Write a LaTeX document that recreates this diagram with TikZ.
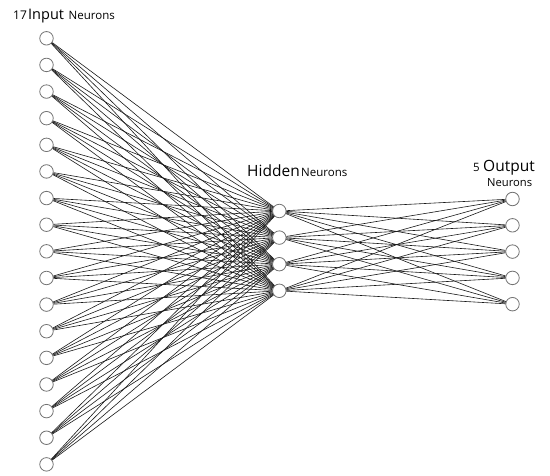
\documentclass[tikz,border=0pt]{standalone}
\usepackage{fontspec}
\setmainfont{Open Sans}
\begin{document}
\begin{tikzpicture}[x=1pt,y=-1pt,
  neuron/.style={circle,draw=black!55,line width=0.8pt,fill=white,minimum size=13.5pt,inner sep=0pt},
  conn/.style={draw=black!90,line width=0.6pt},
  lbl/.style={anchor=base west,inner sep=0pt,text=black}]
\useasboundingbox (0,0) rectangle (550,476);
% neurons
\foreach \i in {1,...,17}
  \node[neuron] (in\i) at (46.5,{38.3+(\i-1)*26.63}) {};
\foreach \j in {1,...,4}
  \node[neuron] (hd\j) at (279.3,{211+(\j-1)*26.6}) {};
\foreach \k in {1,...,5}
  \node[neuron] (out\k) at (512.5,{199+(\k-1)*26.3}) {};
% connections
\foreach \i in {1,...,17}
  \foreach \j in {1,...,4}
    \draw[conn] (in\i) -- (hd\j);
\foreach \j in {1,...,4}
  \foreach \k in {1,...,5}
    \draw[conn] (hd\j) -- (out\k);
% labels
\node[lbl,font=\fontsize{12}{14}\selectfont] (l17) at (13,20) {17};
\node[lbl,font=\fontsize{14.5}{17}\selectfont] (linput) at (28,20) {Input};
\node[lbl,font=\fontsize{11.5}{13}\selectfont] (lin2) at (68.5,20) {Neurons};
\node[lbl,font=\fontsize{15.5}{17}\selectfont] (lhid) at (247,176.5) {Hidden};
\node[lbl,font=\fontsize{11.5}{13}\selectfont] (lhid2) at (301,176.5) {Neurons};
\node[lbl,font=\fontsize{11.5}{13}\selectfont] (l5) at (473,172) {5};
\node[lbl,font=\fontsize{15.5}{17}\selectfont] (lout) at (483,172) {Output};
\node[lbl,font=\fontsize{11.2}{13}\selectfont] (lout2) at (487,186.5) {Neurons};
\end{tikzpicture}
\end{document}
